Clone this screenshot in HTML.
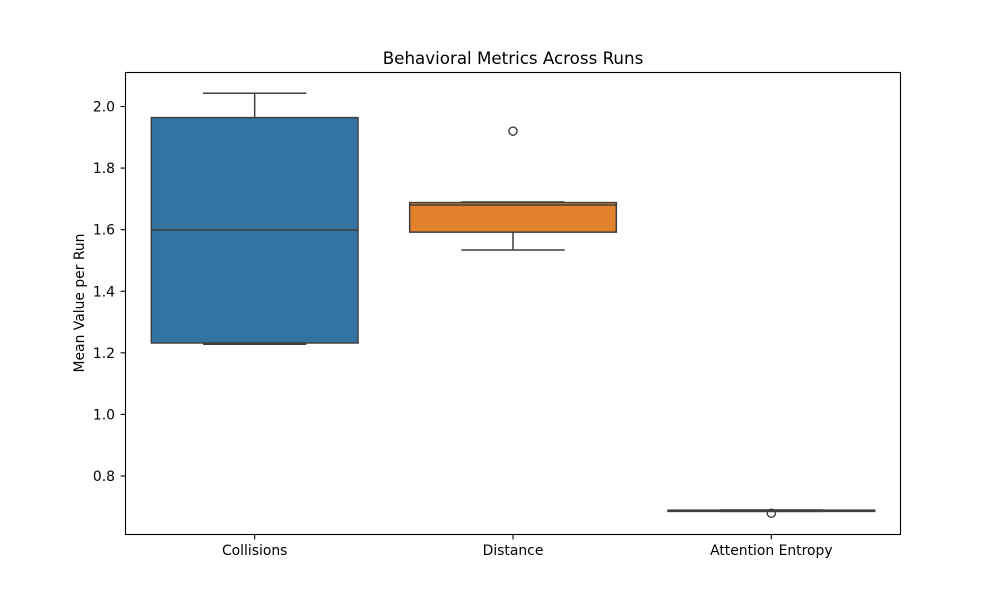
<!DOCTYPE html>
<html lang="en">
<head>
<meta charset="utf-8">
<title>Behavioral Metrics Across Runs</title>
<style>
html,body{margin:0;padding:0;background:#fff;width:1000px;height:600px;overflow:hidden}
svg{display:block}
text{font-family:"DejaVu Sans","Liberation Sans",sans-serif;fill:#000}
</style>
</head>
<body>
<svg id="chart" width="1000" height="600" viewBox="0 0 1000 600" xmlns="http://www.w3.org/2000/svg"></svg>
<script>
const categories = ["Collisions", "Distance", "Attention Entropy"];
const whiskerHigh = [2.043, 1.690, 0.6895];
const quartile3 = [1.964, 1.688, 0.689];
const medians = [1.599, 1.680, 0.687];
const quartile1 = [1.232, 1.592, 0.685];
const whiskerLow = [1.228, 1.534, 0.685];
const outliers = [[], [1.92], [0.679]];
const boxColors = ["#3274a1", "#e1812c"];
const yTickValues = [0.8, 1.0, 1.2, 1.4, 1.6, 1.8, 2.0];
const yTickLabels = ["0.8", "1.0", "1.2", "1.4", "1.6", "1.8", "2.0"];

const NS = "http://www.w3.org/2000/svg";
const svg = document.getElementById("chart");
const plot = {left:125.5, right:900.5, top:72.5, bottom:534.5};
const lineColor = "#3f3f3f";
const boxWidthUnits = 0.8;

function xScale(i){ return plot.left + (i + 0.5) / categories.length * (plot.right - plot.left); }
function yScale(v){ return 476 + (0.8 - v) * 307.9; }
function make(tag, attrs, text){
  const el = document.createElementNS(NS, tag);
  for (const k in attrs) el.setAttribute(k, attrs[k]);
  if (text !== undefined) el.textContent = text;
  svg.appendChild(el);
  return el;
}
function seg(x1, y1, x2, y2, stroke, width){
  return make("line", {x1:x1, y1:y1, x2:x2, y2:y2, stroke:stroke, "stroke-width":width});
}
const unit = (plot.right - plot.left) / categories.length;

categories.forEach(function(name, i){
  const cx = xScale(i);
  const half = unit * boxWidthUnits / 2;
  const capHalf = half / 2;
  const color = boxColors[i % boxColors.length];
  const slug = name.toLowerCase().replace(/\s+/g, "-");

  const lowStem = seg(cx, yScale(quartile1[i]), cx, yScale(whiskerLow[i]), lineColor, 1.5);
  
  
  const highStem = seg(cx, yScale(quartile3[i]), cx, yScale(whiskerHigh[i]), lineColor, 1.5);
  
  
  const lowCap = seg(cx - capHalf, yScale(whiskerLow[i]), cx + capHalf, yScale(whiskerLow[i]), lineColor, 1.5);
  
  
  const highCap = seg(cx - capHalf, yScale(whiskerHigh[i]), cx + capHalf, yScale(whiskerHigh[i]), lineColor, 1.5);
  
  

  const box = make("rect", {
    x: cx - half,
    y: yScale(quartile3[i]),
    width: half * 2,
    height: Math.max(0, yScale(quartile1[i]) - yScale(quartile3[i])),
    fill: color,
    stroke: lineColor,
    "stroke-width": 1.5
  });
  
  

  const med = seg(cx - half, yScale(medians[i]), cx + half, yScale(medians[i]), lineColor, 1.5);
  
  

  outliers[i].forEach(function(v){
    const dot = make("circle", {cx:cx, cy:yScale(v), r:4.1, fill:"none", stroke:lineColor, "stroke-width":1.4});
    
    
  });

  const tick = seg(cx, plot.bottom, cx, plot.bottom + 4.9, "#000", 1.1);
  
  
  const label = make("text", {x:cx, y:555, "text-anchor":"middle", "font-size":"13.9px"}, name);
  
  
});

yTickValues.forEach(function(v, i){
  const y = yScale(v);
  const tick = seg(plot.left - 4.9, y, plot.left, y, "#000", 1.1);
  
  
  const label = make("text", {x:plot.left - 10.5, y:y + 5, "text-anchor":"end", "font-size":"13.9px"}, yTickLabels[i]);
  
  
});

const frame = make("rect", {
  x: plot.left, y: plot.top,
  width: plot.right - plot.left, height: plot.bottom - plot.top,
  fill: "none", stroke: "#000", "stroke-width": 1.1
});



const title = make("text", {x:513, y:64, "text-anchor":"middle", "font-size":"16.7px"}, "Behavioral Metrics Across Runs");



const yTitle = make("text", {x:0, y:0, "text-anchor":"middle", "font-size":"13.9px", transform:"translate(84 303) rotate(-90)"}, "Mean Value per Run");


</script>
</body>
</html>
